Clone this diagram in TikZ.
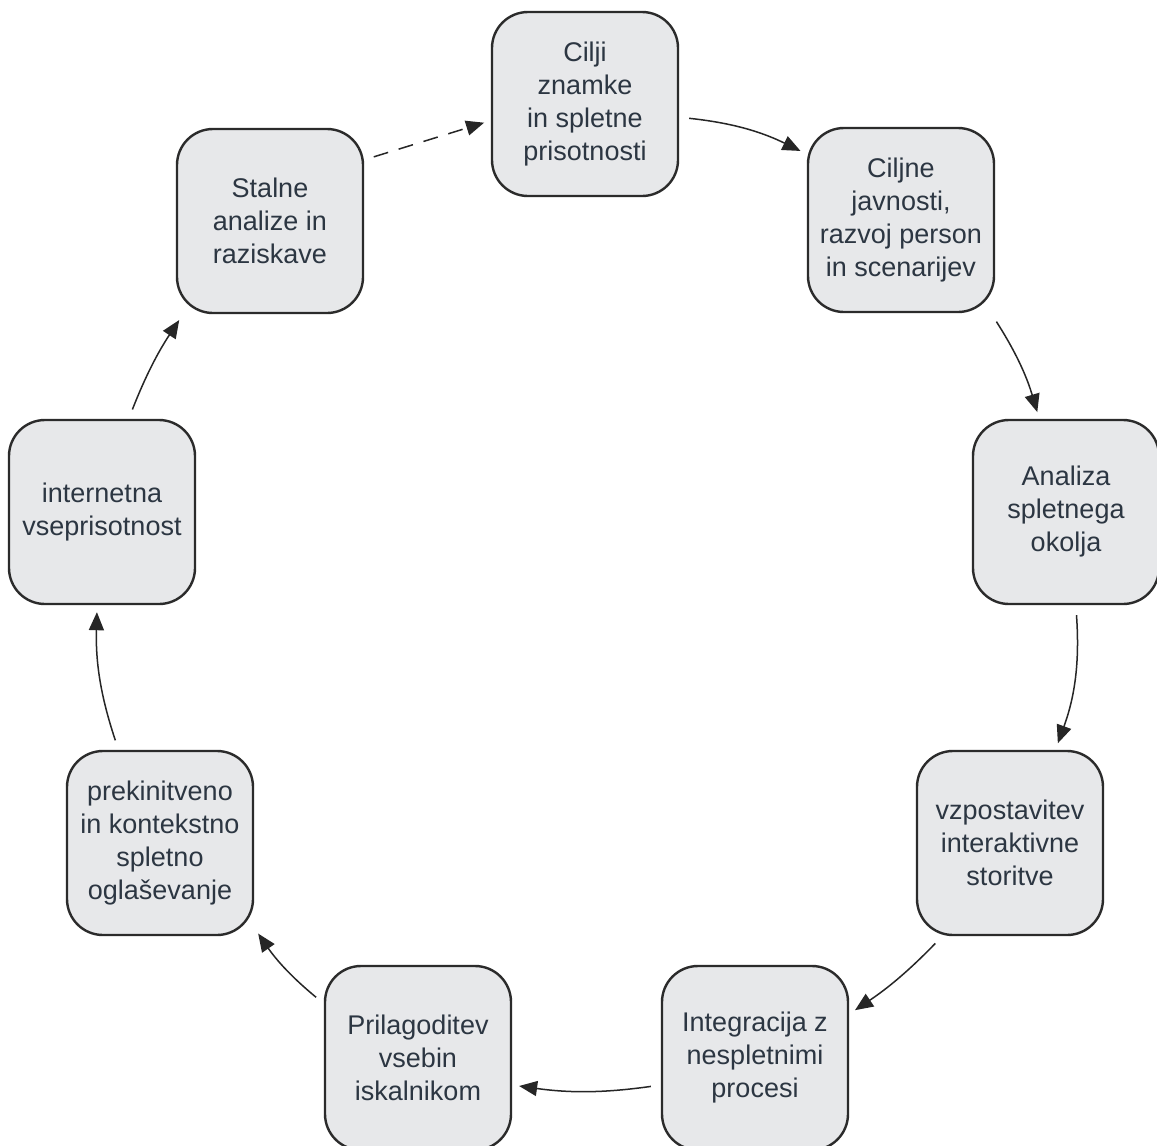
\documentclass[tikz,border=0pt]{standalone}
\usepackage{fontspec}
\setmainfont{Liberation Sans}
\usetikzlibrary{arrows.meta}
\definecolor{boxfill}{HTML}{E7E8EA}
\definecolor{boxline}{HTML}{2B2B2B}
\definecolor{boxtext}{HTML}{2C3642}
\definecolor{linecol}{HTML}{262626}
\tikzset{
  stepbox/.style={draw=boxline, line width=2.4pt, fill=boxfill, rounded corners=36pt,
    minimum width=186pt, minimum height=184pt, align=center, inner sep=2pt,
    text=boxtext, font=\fontsize{27pt}{33pt}\selectfont},
  flow/.style={draw=linecol, line width=1.5pt, -{Triangle[length=18pt,width=15pt]},
    shorten <=10pt, shorten >=7pt},
  dashflow/.style={flow, dash pattern=on 15pt off 11pt}
}
\begin{document}
\begin{tikzpicture}[x=1pt,y=-1pt]
\useasboundingbox[fill=white] (0,0) rectangle (1157,1146);
\node[stepbox] (cilji)  at (585,104)  {Cilji\\znamke\\in spletne\\prisotnosti};
\node[stepbox] (ciljne) at (901,220)  {Ciljne\\javnosti,\\razvoj person\\in scenarijev};
\node[stepbox] (analiza) at (1066,512) {Analiza\\spletnega\\okolja};
\node[stepbox] (vzpost) at (1010,843) {vzpostavitev\\interaktivne\\storitve};
\node[stepbox] (integ)  at (755,1058) {Integracija z\\nespletnimi\\procesi};
\node[stepbox] (prilag) at (418,1058) {Prilagoditev\\vsebin\\iskalnikom};
\node[stepbox] (prekin) at (160,843)  {prekinitveno\\in kontekstno\\spletno\\oglaševanje};
\node[stepbox] (intern) at (102,512)  {internetna\\vseprisotnost};
\node[stepbox] (stalne) at (270,221)  {Stalne\\analize in\\raziskave};

\draw[dashflow] (stalne.33) -- (cilji.190);
\draw[flow] (cilji.-8) to[bend left=10] (ciljne.145);
\draw[flow] (ciljne.-46) to[bend left=8] (analiza.106);
\draw[flow] (analiza.-84) to[bend left=12] (vzpost.64);
\draw[flow] (vzpost.-126) to[bend left=6] (integ.25);
\draw[flow] (integ.196) to[bend left=8] (prilag.-16);
\draw[flow] (prilag.150) to[bend left=8] (prekin.-42);
\draw[flow] (prekin.114) to[bend left=10] (intern.-93);
\draw[flow] (intern.74) to[bend left=6] (stalne.-133);
\end{tikzpicture}
\end{document}
